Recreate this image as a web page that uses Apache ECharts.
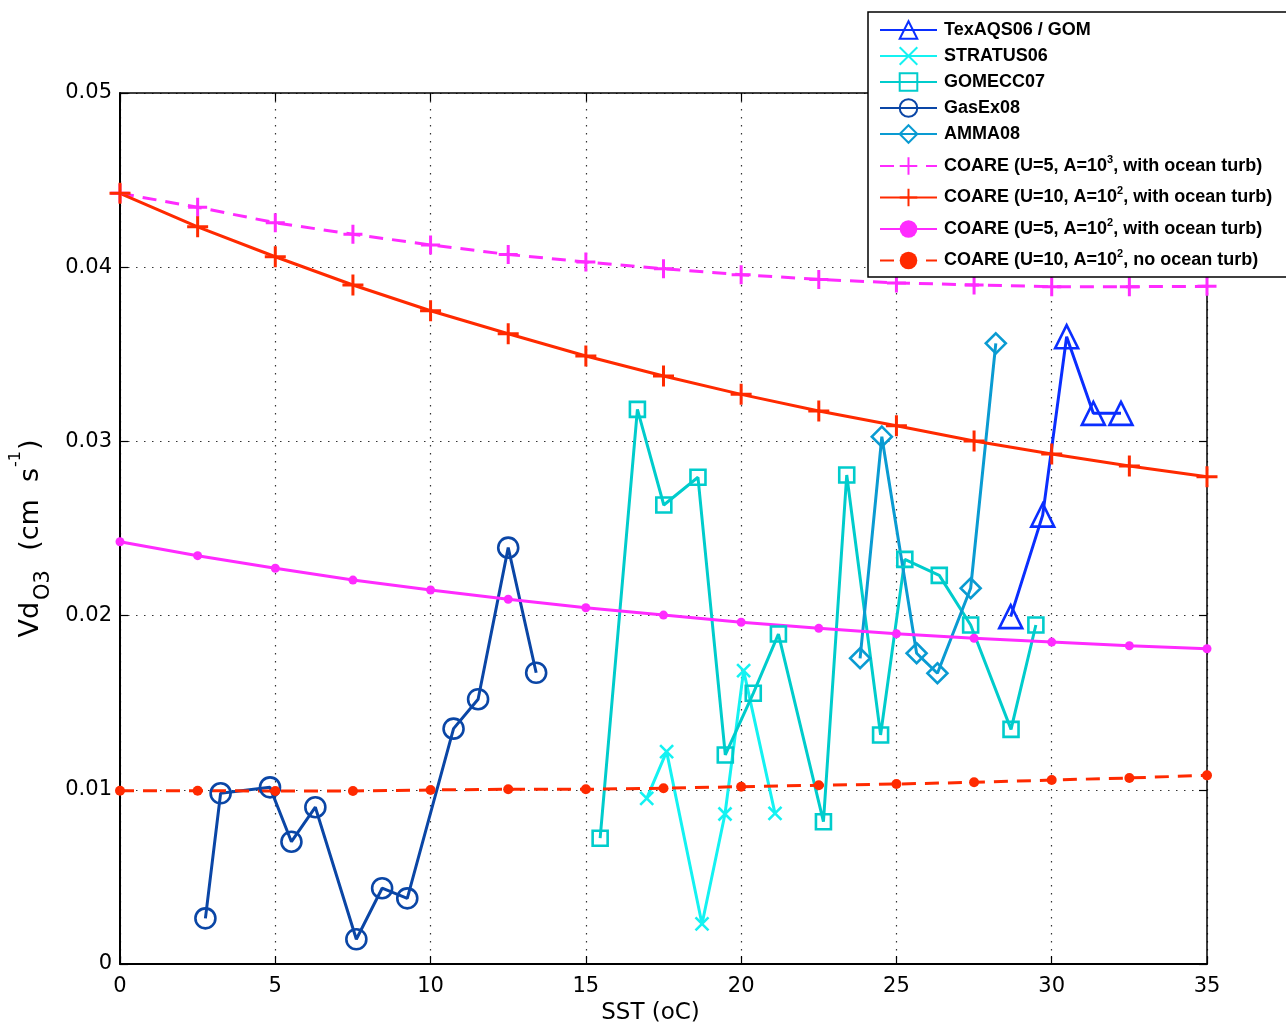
<!DOCTYPE html>
<html>
<head>
<meta charset="utf-8">
<title>Vd O3 vs SST</title>
<script src="https://cdn.jsdelivr.net/npm/echarts@6/dist/echarts.min.js"></script>
<style>
  html, body { margin: 0; padding: 0; background: #fff; overflow: hidden; }
  #chart { width: 1286px; height: 1023px; }
</style>
</head>
<body>
<div id="chart"></div>
<script>
// ---------------------------------------------------
// Data
// ---------------------------------------------------
const coareSst = [0, 2.5, 5, 7.5, 10, 12.5, 15, 17.5, 20, 22.5, 25, 27.5, 30, 32.5, 35];
const coareU5A3Turb = [0.04424, 0.04344, 0.04255, 0.04189, 0.04128, 0.04073, 0.0403, 0.03991,
  0.03957, 0.0393, 0.0391, 0.03898, 0.03888, 0.03888, 0.03890];
const coareU10A2Turb = [0.04424, 0.04232, 0.0406, 0.03898, 0.0375, 0.03618, 0.0349, 0.03375,
  0.0327, 0.03175, 0.0309, 0.03002, 0.02928, 0.02859, 0.02797];
const coareU5A2Turb = [0.02424, 0.02344, 0.02272, 0.02204, 0.02147, 0.02094, 0.02045, 0.02003,
  0.01962, 0.01927, 0.01896, 0.0187, 0.01848, 0.01827, 0.0181];
const coareU10A2NoTurb = [0.00995, 0.00995, 0.00993, 0.00993, 0.00999, 0.01003, 0.01003, 0.01009,
  0.01018, 0.01026, 0.01033, 0.01043, 0.01056, 0.01068, 0.01083];

const texaqsSst = [28.68, 29.71, 30.48, 31.34, 32.23];
const texaqsVd = [0.01994, 0.02577, 0.03601, 0.03161, 0.03161];

const stratusSst = [16.96, 17.60, 18.74, 19.48, 20.08, 21.09];
const stratusVd = [0.00951, 0.01219, 0.0023, 0.00861, 0.01684, 0.00865];

const gomeccSst = [15.46, 16.66, 17.51, 18.61, 19.49, 20.39, 21.20, 22.65, 23.40, 24.49,
  25.27, 26.38, 27.39, 28.69, 29.49];
const gomeccVd = [0.00722, 0.03184, 0.02635, 0.02794, 0.0120, 0.01554, 0.01894, 0.00817, 0.02807,
  0.01315, 0.02323, 0.02231, 0.01946, 0.01347, 0.01946];

const gasexSst = [2.75, 3.24, 4.83, 5.52, 6.29, 7.61, 8.44, 9.25, 10.74, 11.53, 12.50, 13.40];
const gasexVd = [0.00262, 0.0098, 0.01014, 0.00702, 0.0090, 0.00142, 0.00435, 0.00377, 0.01351,
  0.0152, 0.0239, 0.01672];

const ammaSst = [23.83, 24.53, 25.65, 26.32, 27.39, 28.20];
const ammaVd = [0.01755, 0.03027, 0.01784, 0.01669, 0.02157, 0.03563];

const xTicks = [0, 5, 10, 15, 20, 25, 30, 35];
const yTicks = [0, 0.01, 0.02, 0.03, 0.04, 0.05];

const legendLabels = {
  "TexAQS06 / GOM": "TexAQS06 / GOM",
  "STRATUS06": "STRATUS06",
  "GOMECC07": "GOMECC07",
  "GasEx08": "GasEx08",
  "AMMA08": "AMMA08",
  "COARE (U=5, A=10^3, with ocean turb)": "COARE (U=5, A=10{sup|3}, with ocean turb)",
  "COARE (U=10, A=10^2, with ocean turb)": "COARE (U=10, A=10{sup|2}, with ocean turb)",
  "COARE (U=5, A=10^2, with ocean turb)": "COARE (U=5, A=10{sup|2}, with ocean turb)",
  "COARE (U=10, A=10^2, no ocean turb)": "COARE (U=10, A=10{sup|2}, no ocean turb)"
};

// ---------------------------------------------------
// Helpers
// ---------------------------------------------------
const FONT = "'DejaVu Sans', Verdana, sans-serif";
const LEGEND_FONT = "'Liberation Sans', Helvetica, Arial, sans-serif";
const zip = (xs, ys) => xs.map((x, i) => [x, ys[i]]);

const PLUS = "path://M5,0L5,10M0,5L10,5";
const CROSS = "path://M0,0L10,10M10,0L0,10";

function fieldSeries(name, xs, ys, color, symbol, size) {
  return {
    name: name,
    type: "line",
    data: zip(xs, ys),
    symbol: symbol,
    symbolSize: size,
    lineStyle: { color: color, width: 3 },
    itemStyle: { color: "rgba(255,255,255,0)", borderColor: color, borderWidth: 2.6 },
    emphasis: { disabled: true }
  };
}

function coareSeries(name, ys, color, dashed, symbol, size, filled) {
  return {
    name: name,
    type: "line",
    data: zip(coareSst, ys),
    symbol: symbol,
    symbolSize: size,
    lineStyle: { color: color, width: 3, type: dashed ? [14, 9] : "solid" },
    itemStyle: filled
      ? { color: color, borderWidth: 0 }
      : { color: "rgba(255,255,255,0)", borderColor: color, borderWidth: 3 },
    emphasis: { disabled: true }
  };
}

const legendText = {
  fontFamily: LEGEND_FONT,
  fontSize: 18,
  fontWeight: "bold",
  color: "#000",
  rich: {
    sup: { fontFamily: LEGEND_FONT, fontSize: 11, fontWeight: "bold", verticalAlign: "top", lineHeight: 14 }
  }
};

// ---------------------------------------------------
// Chart
// ---------------------------------------------------
const chart = echarts.init(document.getElementById("chart"), null, { renderer: "canvas" });

chart.setOption({
  animation: false,
  backgroundColor: "#fff",
  grid: {
    left: 120, top: 93, width: 1087, height: 871,
    containLabel: false,
    outerBoundsMode: "none"
  },
  xAxis: [
    {
      type: "value",
      min: 0, max: 35, interval: 5,
      name: "SST (oC)",
      nameLocation: "middle",
      nameGap: 38,
      nameTextStyle: { fontFamily: FONT, fontSize: 23, color: "#000", padding: [0, 26, 0, 0] },
      axisLine: { onZero: false, lineStyle: { color: "#000", width: 2 } },
      axisTick: { inside: true, length: 8, lineStyle: { color: "#000", width: 1.2 } },
      axisLabel: {
        margin: 12, fontFamily: FONT, fontSize: 21, color: "#000",
        formatter: v => (xTicks.includes(v) ? String(v) : "")
      },
      splitLine: { show: true, lineStyle: { color: "#333", width: 1.2, type: [1.5, 6.5] } }
    },
    {
      type: "value",
      position: "top",
      min: 0, max: 35, interval: 5,
      axisLine: { onZero: false, lineStyle: { color: "#000", width: 1.5 } },
      axisTick: { inside: true, length: 8, lineStyle: { color: "#000", width: 1.2 } },
      axisLabel: { show: false },
      splitLine: { show: false }
    }
  ],
  yAxis: [
    {
      type: "value",
      min: 0, max: 0.05, interval: 0.01,
      name: "{n|Vd}{sub|O3}{n|  (cm  s}{sup|-1}{n|)}",
      nameLocation: "middle",
      nameGap: 54,
      nameRotate: 90,
      nameTextStyle: {
        fontFamily: FONT, fontSize: 27, color: "#000",
        padding: [0, 20, 0, 0],
        rich: {
          n: { fontFamily: FONT, fontSize: 27, lineHeight: 46 },
          sub: { fontFamily: FONT, fontSize: 21, lineHeight: 22, verticalAlign: "bottom", padding: [0, 2, 0, 2] },
          sup: { fontFamily: FONT, fontSize: 16, lineHeight: 38, verticalAlign: "top", padding: [0, 1, 0, 1] }
        }
      },
      axisLine: { onZero: false, lineStyle: { color: "#000", width: 2 } },
      axisTick: { inside: true, length: 8, lineStyle: { color: "#000", width: 1.2 } },
      axisLabel: {
        margin: 8, fontFamily: FONT, fontSize: 21, color: "#000",
        formatter: v => {
          const t = yTicks.find(k => Math.abs(k - v) < 1e-9);
          return t === undefined ? "" : (t === 0 ? "0" : t.toFixed(2));
        }
      },
      splitLine: { show: true, lineStyle: { color: "#333", width: 1.2, type: [1.5, 6.5] } }
    },
    {
      type: "value",
      position: "right",
      min: 0, max: 0.05, interval: 0.01,
      axisLine: { show: true, onZero: false, lineStyle: { color: "#000", width: 1.5 } },
      axisTick: { show: true, inside: true, length: 8, lineStyle: { color: "#000", width: 1.2 } },
      axisLabel: { show: false },
      splitLine: { show: false }
    }
  ],
  legend: [
    {
      orient: "vertical",
      left: 879, top: 20,
      padding: 0,
      itemWidth: 57, itemHeight: 22,
      itemGap: 6,
      z: 20,
      selectedMode: false,
      data: ["TexAQS06 / GOM", "STRATUS06", "GOMECC07", "GasEx08", "AMMA08"],
      formatter: name => legendLabels[name] || name,
      textStyle: Object.assign({ lineHeight: 20, padding: [0, 0, 0, 2] }, legendText)
    },
    {
      orient: "vertical",
      left: 879, top: 154,
      padding: 0,
      itemWidth: 57, itemHeight: 22,
      itemGap: 7.5,
      z: 20,
      selectedMode: false,
      data: [
        "COARE (U=5, A=10^3, with ocean turb)",
        "COARE (U=10, A=10^2, with ocean turb)",
        "COARE (U=5, A=10^2, with ocean turb)",
        "COARE (U=10, A=10^2, no ocean turb)"
      ],
      formatter: name => legendLabels[name] || name,
      textStyle: Object.assign({ lineHeight: 24, padding: [0, 0, 0, 2] }, legendText)
    }
  ],
  graphic: [
    {
      type: "rect",
      z: 10,
      shape: { x: 868, y: 12, width: 430, height: 265 },
      style: { fill: "#fff", stroke: "#000", lineWidth: 1.5 }
    }
  ],
  series: [
    fieldSeries("TexAQS06 / GOM", texaqsSst, texaqsVd, "#0A2EFF", "triangle", 23),
    fieldSeries("STRATUS06", stratusSst, stratusVd, "#14F2F2", CROSS, 13),
    fieldSeries("GOMECC07", gomeccSst, gomeccVd, "#00CCCC", "rect", 15),
    fieldSeries("GasEx08", gasexSst, gasexVd, "#0A46A6", "circle", 20),
    fieldSeries("AMMA08", ammaSst, ammaVd, "#0A9BD2", "diamond", 20),
    coareSeries("COARE (U=5, A=10^3, with ocean turb)", coareU5A3Turb, "#FF2BFF", true, PLUS, 19, false),
    coareSeries("COARE (U=10, A=10^2, with ocean turb)", coareU10A2Turb, "#FF2A00", false, PLUS, 21, false),
    coareSeries("COARE (U=5, A=10^2, with ocean turb)", coareU5A2Turb, "#FF2BFF", false, "circle", 9, true),
    coareSeries("COARE (U=10, A=10^2, no ocean turb)", coareU10A2NoTurb, "#FF2A00", true, "circle", 10, true)
  ]
});

window.addEventListener("resize", chart.resize);
</script>
</body>
</html>
